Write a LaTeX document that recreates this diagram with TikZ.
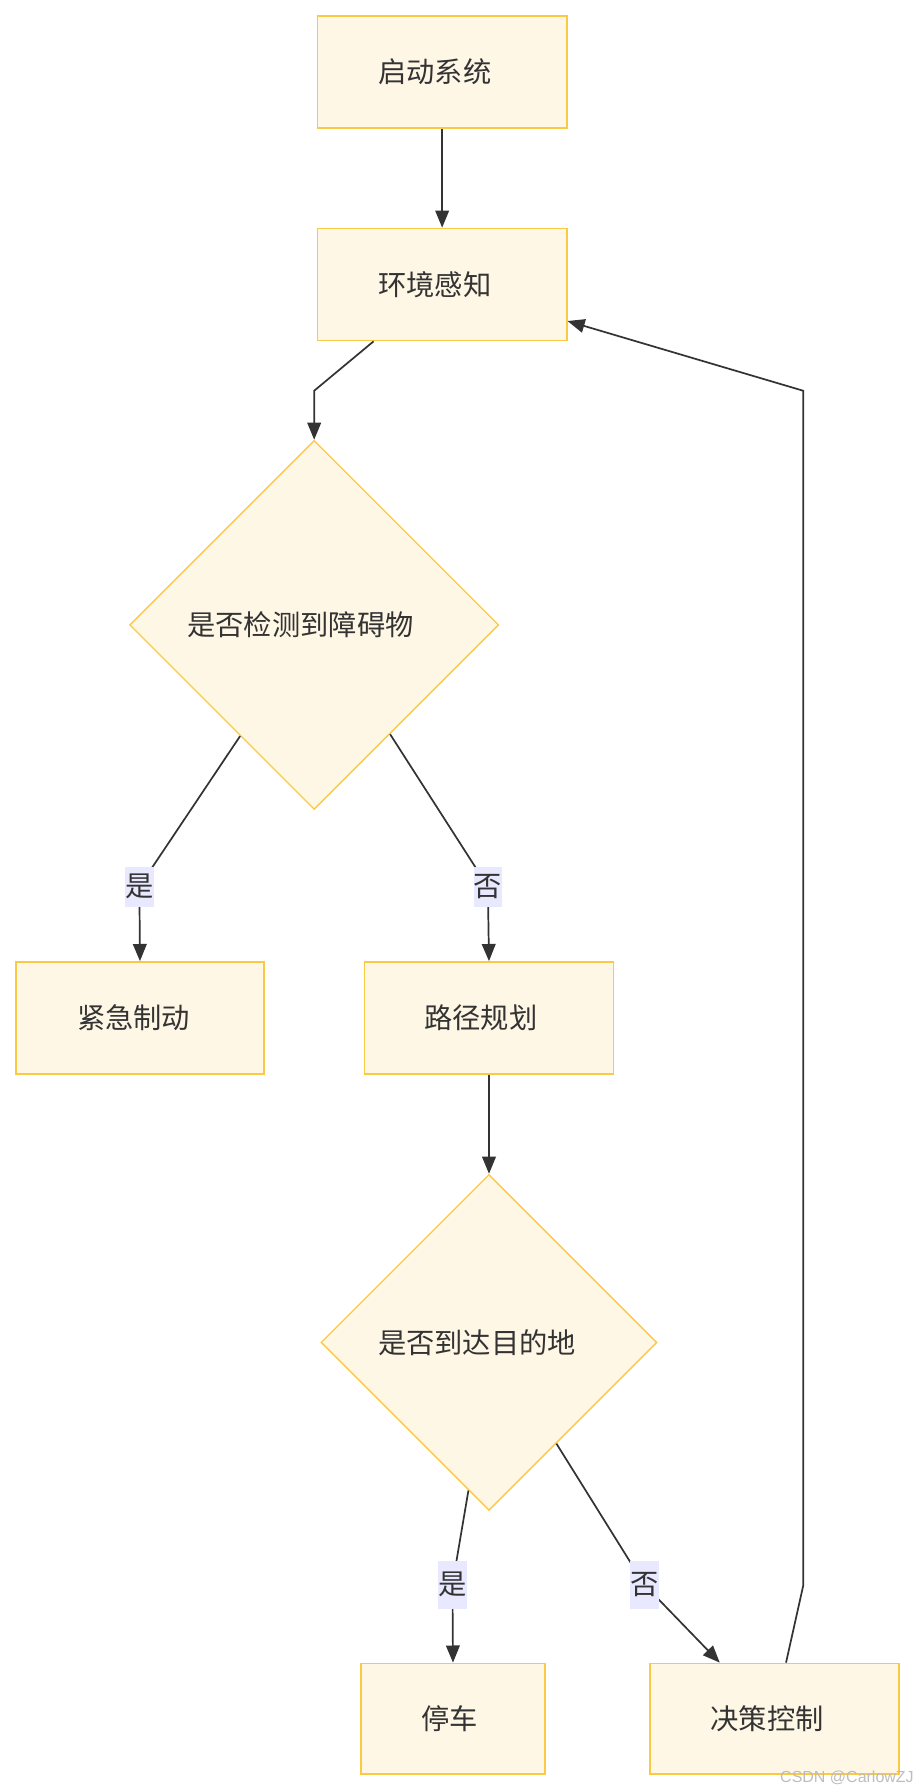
\documentclass[tikz,border=0pt]{standalone}
\usepackage{fontspec}
\setmainfont{Noto Sans CJK SC}
\newfontfamily\wmfont{Liberation Sans}
\usetikzlibrary{arrows.meta,shapes.geometric,calc}
\definecolor{boxfill}{HTML}{FFF7E6}
\definecolor{boxline}{HTML}{FCC945}
\definecolor{lblfill}{HTML}{E8E8FF}
\definecolor{ink}{HTML}{333333}
\definecolor{wmgray}{HTML}{BDBDBD}
\tikzset{
  box/.style={rectangle, draw=boxline, fill=boxfill, line width=1.5pt,
    minimum width=218pt, minimum height=98pt, inner sep=0pt,
    text=ink, font=\fontsize{24.75pt}{30pt}\selectfont},
  dmd/.style={diamond, draw=boxline, fill=boxfill, line width=1.2pt,
    inner sep=0pt, text=ink, font=\fontsize{24.75pt}{30pt}\selectfont},
  edge/.style={draw=ink, line width=1.5pt, -{Triangle[length=15pt,width=12pt]}},
  elabel/.style={rectangle, fill=lblfill, inner sep=0pt, minimum width=24pt,
    minimum height=35pt, text=ink, font=\fontsize{24.75pt}{30pt}\selectfont}
}
\begin{document}
\begin{tikzpicture}[x=1pt,y=-1pt]
\useasboundingbox (0,0) rectangle (800,1565);
% nodes
\node[box] (start) at (387,63) {\kern-13pt 启动系统};
\node[box] (env) at (387,249) {\kern-13pt 环境感知};
\node[dmd, minimum width=323pt, minimum height=323pt] (d1) at (275,547) {\kern-24pt 是否检测到障碍物};
\node[box, minimum width=217pt] (kj) at (122.5,891) {\kern-11pt 紧急制动};
\node[box] (lj) at (428,891) {\kern-14pt 路径规划};
\node[dmd, minimum width=294pt, minimum height=294pt] (d2) at (428,1175) {\kern-21pt 是否到达目的地};
\node[box, minimum width=161pt, minimum height=97pt] (tc) at (396.5,1504.5) {\kern-6pt 停车};
\node[box, minimum height=97pt] (jc) at (678,1504.5) {\kern-13pt 决策控制};
% label positions and bends
\coordinate (b1) at (275,342);
\coordinate (l1) at (122,776);
\coordinate (l2) at (427,776);
\coordinate (l3) at (396,1387);
\coordinate (l4) at (564,1387);
\coordinate (b2) at (703,1388);
\coordinate (b3) at (703,342);
% edges
\draw[edge] (start.south) -- (env.north);
\draw[edge] ([xshift=-60pt]env.south) -- (b1) -- (d1.north);
\draw[edge] ($(d1.west)!0.6!(d1.south)$) -- (l1) node[elabel] (t1) {是} -- (kj.north);
\draw[edge] ($(d1.east)!0.59!(d1.south)$) -- (l2) node[elabel] (t2) {否} -- (lj.north);
\draw[edge] (lj.south) -- (d2.north);
\draw[edge] ($(d2.west)!0.878!(d2.south)$) -- (l3) node[elabel, minimum width=25pt, minimum height=42pt] (t3) {是} -- (tc.north);
\draw[edge] ($(d2.east)!0.6!(d2.south)$) -- (l4) node[elabel, minimum width=25pt, minimum height=42pt] (t4) {否} -- ([xshift=-48pt]jc.north);
\draw[edge] ([xshift=10pt]jc.north) -- (b2) -- (b3) -- ([yshift=-32pt]env.east);
% watermark
\node[anchor=east, inner sep=0pt, text=wmgray, font=\wmfont\fontsize{14pt}{16pt}\selectfont] (wm) at (800,1556) {CSDN @CarlowZJ};
\end{tikzpicture}
\end{document}
